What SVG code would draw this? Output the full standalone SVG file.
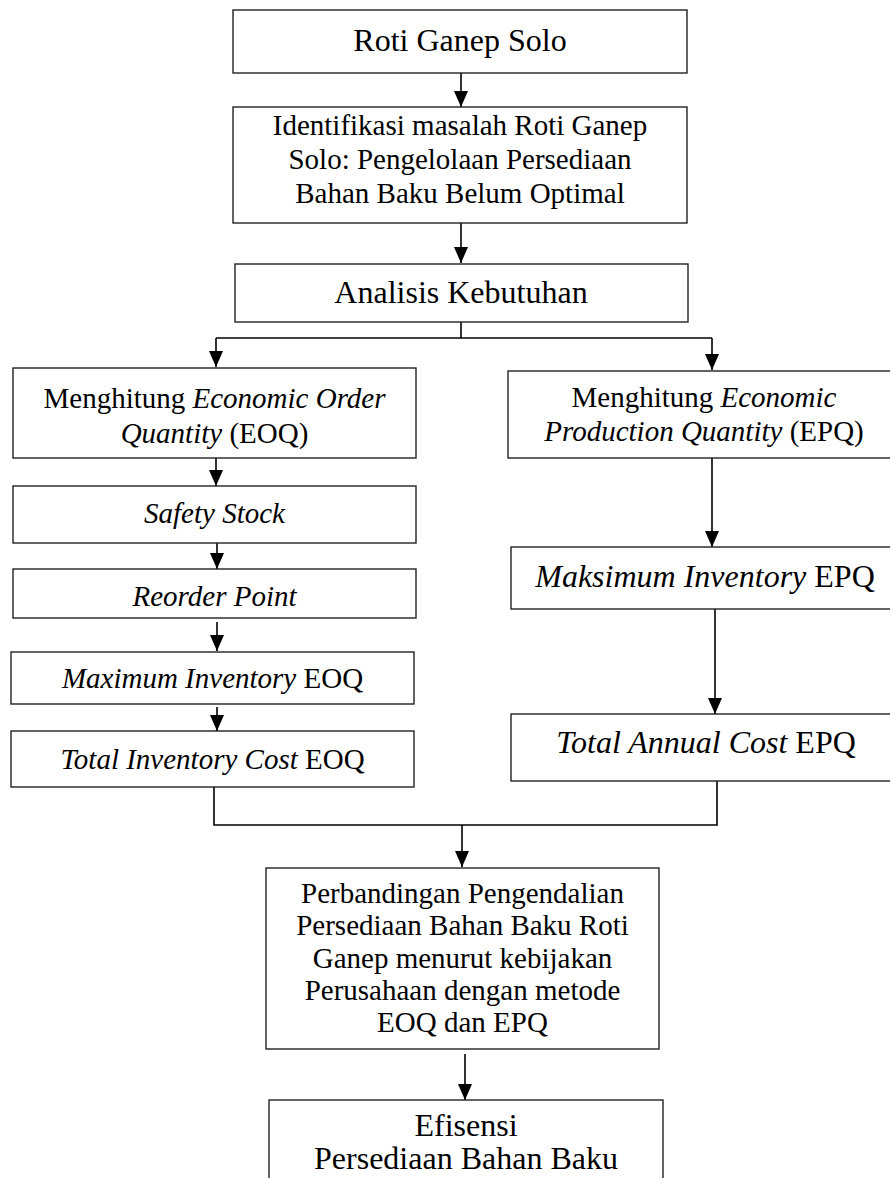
<svg xmlns="http://www.w3.org/2000/svg" width="890" height="1178" viewBox="0 0 890 1178">
<style>
.box{fill:#fff;stroke:#222;stroke-width:1.4}
.t{font-family:"Liberation Serif","Times New Roman",serif;fill:#000;text-anchor:middle}
.s29{font-size:29px}
.s32{font-size:32px}
.i{font-style:italic}
.c{fill:none;stroke:#000;stroke-width:1.6}
</style>
<defs>
<marker id="ah" viewBox="0 0 16 14" refX="16" refY="7" markerWidth="16" markerHeight="14" markerUnits="userSpaceOnUse" orient="auto">
<path d="M0,0 L16,7 L0,14 z" fill="#000"/>
</marker>
</defs>
<rect width="890" height="1178" fill="#fff"/>
<g id="connectors">
<line class="c" x1="461" y1="73" x2="461" y2="107" marker-end="url(#ah)"/>
<line class="c" x1="461" y1="223" x2="461" y2="263" marker-end="url(#ah)"/>
<polyline class="c" points="461,322 461,338"/>
<polyline class="c" points="216,338 712,338"/>
<line class="c" x1="216" y1="338" x2="216" y2="367" marker-end="url(#ah)"/>
<line class="c" x1="712" y1="338" x2="712" y2="370" marker-end="url(#ah)"/>
<line class="c" x1="216" y1="458" x2="216" y2="486" marker-end="url(#ah)"/>
<line class="c" x1="217" y1="543" x2="217" y2="569" marker-end="url(#ah)"/>
<line class="c" x1="217" y1="622" x2="217" y2="651" marker-end="url(#ah)"/>
<line class="c" x1="217" y1="707" x2="217" y2="731" marker-end="url(#ah)"/>
<line class="c" x1="712" y1="458" x2="712" y2="547" marker-end="url(#ah)"/>
<line class="c" x1="715" y1="609" x2="715" y2="714" marker-end="url(#ah)"/>
<polyline class="c" points="214,787 214,825 717,825 717,781"/>
<line class="c" x1="462" y1="825" x2="462" y2="867" marker-end="url(#ah)"/>
<line class="c" x1="465" y1="1054" x2="465" y2="1100" marker-end="url(#ah)"/>
</g>
<g id="n1">
<rect class="box" x="233" y="10" width="454" height="63"/>
<text class="t s32" x="460" y="51">Roti Ganep Solo</text>
</g>
<g id="n2">
<rect class="box" x="233" y="107" width="454" height="116"/>
<text class="t s29" x="460" y="135">Identifikasi masalah Roti Ganep</text>
<text class="t s29" x="460" y="169">Solo: Pengelolaan Persediaan</text>
<text class="t s29" x="460" y="203">Bahan Baku Belum Optimal</text>
</g>
<g id="n3">
<rect class="box" x="235" y="264" width="453" height="58"/>
<text class="t s32" x="461" y="303">Analisis Kebutuhan</text>
</g>
<g id="n4">
<rect class="box" x="13" y="368" width="403" height="90"/>
<text class="t s29" x="214.5" y="408">Menghitung <tspan class="i">Economic Order</tspan></text>
<text class="t s29" x="214.5" y="443"><tspan class="i">Quantity</tspan> (EOQ)</text>
</g>
<g id="n5">
<rect class="box" x="508" y="371" width="392" height="87"/>
<text class="t s29" x="704" y="407">Menghitung <tspan class="i">Economic</tspan></text>
<text class="t s29" x="704" y="441"><tspan class="i">Production Quantity</tspan> (EPQ)</text>
</g>
<g id="n6">
<rect class="box" x="13" y="486" width="403" height="57"/>
<text class="t s29 i" x="214.5" y="523">Safety Stock</text>
</g>
<g id="n7">
<rect class="box" x="13" y="569" width="403" height="49"/>
<text class="t s29 i" x="214.5" y="606">Reorder Point</text>
</g>
<g id="n8">
<rect class="box" x="11" y="652" width="403" height="52"/>
<text class="t s29" x="212.5" y="688"><tspan class="i">Maximum Inventory</tspan> EOQ</text>
</g>
<g id="n9">
<rect class="box" x="11" y="731" width="403" height="56"/>
<text class="t s29" x="212.5" y="769"><tspan class="i">Total Inventory Cost</tspan> EOQ</text>
</g>
<g id="n10">
<rect class="box" x="511" y="547" width="390" height="62"/>
<text class="t s32" x="705" y="587"><tspan class="i">Maksimum Inventory</tspan> EPQ</text>
</g>
<g id="n11">
<rect class="box" x="511" y="714" width="390" height="67"/>
<text class="t s32" x="706" y="753"><tspan class="i">Total Annual Cost</tspan> EPQ</text>
</g>
<g id="n12">
<rect class="box" x="266" y="868" width="393" height="181"/>
<text class="t s29" x="462.5" y="903">Perbandingan Pengendalian</text>
<text class="t s29" x="462.5" y="935">Persediaan Bahan Baku Roti</text>
<text class="t s29" x="462.5" y="968">Ganep menurut kebijakan</text>
<text class="t s29" x="462.5" y="1000">Perusahaan dengan metode</text>
<text class="t s29" x="462.5" y="1032">EOQ dan EPQ</text>
</g>
<g id="n13">
<rect class="box" x="269" y="1100" width="394" height="100"/>
<text class="t s32" x="466" y="1136">Efisensi</text>
<text class="t s32" x="466" y="1169">Persediaan Bahan Baku</text>
</g>
</svg>
